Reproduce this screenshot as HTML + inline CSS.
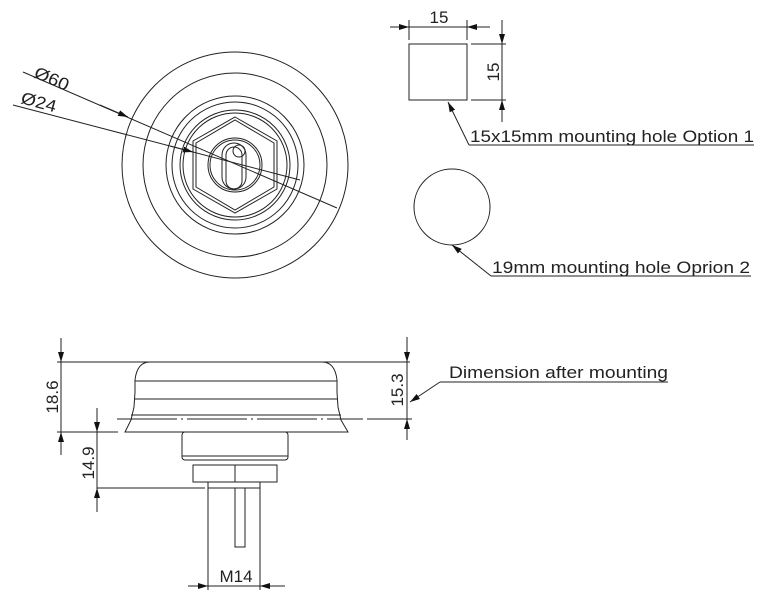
<!DOCTYPE html>
<html><head><meta charset="utf-8"><style>
html,body{margin:0;padding:0;background:#fff;}
svg{display:block;}
text{font-family:"Liberation Sans",sans-serif;fill:#222;}
</style></head><body>
<svg width="767" height="607" viewBox="0 0 767 607" xmlns="http://www.w3.org/2000/svg">
<defs>
<marker id="a" viewBox="0 0 10 6" refX="10" refY="3" markerWidth="10" markerHeight="6" orient="auto" markerUnits="userSpaceOnUse"><path d="M0,0 L10,3 L0,6 z" fill="#111"/></marker>
</defs>
<g stroke="#222" stroke-width="1" fill="none">
<!-- top view -->
<circle cx="235" cy="165" r="113"/>
<circle cx="235" cy="165" r="92"/>
<circle cx="235" cy="165" r="69"/>
<circle cx="235" cy="165" r="63"/>
<circle cx="235" cy="165" r="55"/>
<circle cx="235" cy="165" r="52"/>
<polygon points="235,117 277,141 277,189 235,213 193,189 193,141"/>
<polygon points="235,120 274,143 274,187 235,210 196,187 196,143"/>
<circle cx="235" cy="165" r="27"/>
<circle cx="235" cy="165" r="25"/>
<rect x="222" y="143" width="24" height="46" rx="12"/>
<rect x="226" y="147" width="16" height="42" rx="8"/>
<circle cx="239" cy="151" r="6"/>
<line x1="23" y1="72" x2="337" y2="208"/>
<line x1="13" y1="105" x2="300" y2="180"/>
<line x1="100" y1="105" x2="128" y2="117" marker-end="url(#a)"/>
<line x1="170" y1="146" x2="193" y2="152" marker-end="url(#a)"/>
<!-- top right -->
<rect x="409" y="44" width="58" height="56"/>
<line x1="409" y1="20" x2="409" y2="40"/>
<line x1="467" y1="20" x2="467" y2="40"/>
<line x1="390" y1="27" x2="490" y2="27"/>
<line x1="390" y1="27" x2="409" y2="27" marker-end="url(#a)"/>
<line x1="490" y1="27" x2="467" y2="27" marker-end="url(#a)"/>
<line x1="471" y1="44" x2="506" y2="44"/>
<line x1="471" y1="100" x2="506" y2="100"/>
<line x1="502" y1="20" x2="502" y2="122"/>
<line x1="502" y1="20" x2="502" y2="44" marker-end="url(#a)"/>
<line x1="502" y1="122" x2="502" y2="100" marker-end="url(#a)"/>
<polyline points="469,145 754,145"/>
<line x1="469" y1="145" x2="448" y2="102" marker-end="url(#a)"/>
<circle cx="452" cy="207" r="38"/>
<polyline points="491,276 751,276"/>
<line x1="491" y1="276" x2="452" y2="245" marker-end="url(#a)"/>
<!-- side view -->
<path d="M135,432 L125,432 L131,420 L134,407 L135,392 L135,380 Q137,362 150,362 L322,362 Q335,362 337,380 L337,392 L338,407 L341,420 L348,432 Z"/>
<line x1="135" y1="381" x2="337" y2="381"/>
<line x1="135" y1="399" x2="337" y2="399"/>
<line x1="131" y1="415" x2="341" y2="415"/>
<line x1="117" y1="419" x2="363" y2="419" stroke-dasharray="60,4,2,4"/>
<rect x="182" y="432" width="106" height="28" rx="3"/>
<line x1="182" y1="456" x2="288" y2="456"/>
<path d="M193,465 L277,465 L277,482 L193,482 Z"/>
<line x1="235" y1="465" x2="235" y2="482"/>
<rect x="208" y="482" width="52" height="6"/>
<rect x="235" y="488" width="10" height="59"/>
<line x1="208" y1="488" x2="208" y2="590"/>
<line x1="260" y1="488" x2="260" y2="590"/>
<line x1="188" y1="586" x2="285" y2="586"/>
<line x1="188" y1="586" x2="208" y2="586" marker-end="url(#a)"/>
<line x1="285" y1="586" x2="260" y2="586" marker-end="url(#a)"/>
<!-- 18.6 -->
<line x1="57" y1="362" x2="410" y2="362"/>
<line x1="57" y1="432" x2="118" y2="432"/>
<line x1="61" y1="338" x2="61" y2="455"/>
<line x1="61" y1="338" x2="61" y2="362" marker-end="url(#a)"/>
<line x1="61" y1="455" x2="61" y2="432" marker-end="url(#a)"/>
<!-- 14.9 -->
<line x1="97" y1="488" x2="205" y2="488"/>
<line x1="97" y1="408" x2="97" y2="512"/>
<line x1="97" y1="408" x2="97" y2="432" marker-end="url(#a)"/>
<line x1="97" y1="512" x2="97" y2="488" marker-end="url(#a)"/>
<!-- 15.3 -->
<line x1="367" y1="419" x2="412" y2="419"/>
<line x1="407" y1="337" x2="407" y2="440"/>
<line x1="407" y1="337" x2="407" y2="362" marker-end="url(#a)"/>
<line x1="407" y1="440" x2="407" y2="419" marker-end="url(#a)"/>
<polyline points="440,382 668,382"/>
<line x1="440" y1="382" x2="410" y2="402" marker-end="url(#a)"/>
</g>
<g font-size="17">
<text x="33" y="77" transform="rotate(23 33 77)" textLength="36" lengthAdjust="spacingAndGlyphs">Ø60</text>
<text x="20" y="103" transform="rotate(15 20 103)" textLength="36" lengthAdjust="spacingAndGlyphs">Ø24</text>
<text x="439" y="23" text-anchor="middle">15</text>
<text x="0" y="0" text-anchor="middle" transform="translate(499,72) rotate(-90)">15</text>
<text x="470" y="142" textLength="284" lengthAdjust="spacingAndGlyphs">15x15mm mounting hole Option 1</text>
<text x="492" y="273" textLength="258" lengthAdjust="spacingAndGlyphs">19mm mounting hole Oprion 2</text>
<text x="449" y="378" textLength="219" lengthAdjust="spacingAndGlyphs">Dimension after mounting</text>
<text x="0" y="0" text-anchor="middle" transform="translate(58,397) rotate(-90)">18.6</text>
<text x="0" y="0" text-anchor="middle" transform="translate(94,463) rotate(-90)">14.9</text>
<text x="0" y="0" text-anchor="middle" transform="translate(403,390) rotate(-90)">15.3</text>
<text x="236" y="582" text-anchor="middle">M14</text>
</g>
</svg>
</body></html>
